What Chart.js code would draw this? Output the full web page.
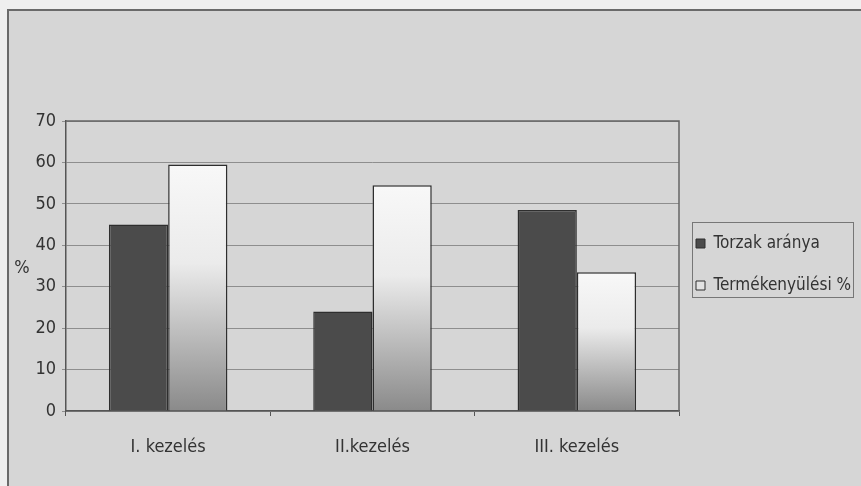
<!DOCTYPE html>
<html>
<head>
<meta charset="utf-8">
<script src="https://cdn.jsdelivr.net/npm/chart.js@4/dist/chart.umd.min.js"></script>
<style>
  html, body { margin: 0; padding: 0; background: #efefef; }
  #keret {
    position: absolute; left: 7px; top: 9px; width: 870px; height: 500px;
    border: 2px solid #6a6a6a; background: #d6d6d6;
  }
  #tarolo { position: absolute; left: 0; top: 0; width: 861px; height: 486px; }
</style>
</head>
<body>
<div id="keret"></div>
<div id="tarolo"><canvas id="grafikon"></canvas></div>
<script>
const kategoriak = ['I. kezelés', 'II.kezelés', 'III. kezelés'];
const torzakAranya = [45, 24, 48.5];
const termekenyulesi = [59.5, 54.5, 33.5];
const yTengelyCim = '%';

const betu = "'Liberation Sans Narrow', 'DejaVu Sans Condensed', sans-serif";

// szürke átmenet az oszlop tetejétől az aljáig
function atmenet(context) {
    const chart = context.chart;
    const { chartArea, scales } = chart;
    if (!chartArea) return '#dddddd';
    const ertek = context.raw;
    if (ertek === undefined) return '#dddddd';
    const teteje = scales.y.getPixelForValue(ertek);
    const g = chart.ctx.createLinearGradient(0, teteje, 0, chartArea.bottom);
    g.addColorStop(0, '#f8f8f8');
    g.addColorStop(0.4, '#ebebeb');
    g.addColorStop(1, '#8a8a8a');
    return g;
}

// jelmagyarázat doboza a rajzterület mellett
const jelmDoboz = { top: 222, bottom: 297, jobb: 853 };

const keretPlugin = {
    id: 'keretek',
    afterLayout(chart) {
        const l = chart.legend;
        l.left = chart.chartArea.right - 8;
        l.top = jelmDoboz.top - 12;
    },
    afterDraw(chart) {
        const ctx = chart.ctx;
        const bal = chart.chartArea.right + 13;
        ctx.save();
        ctx.strokeStyle = '#777777';
        ctx.lineWidth = 1;
        ctx.strokeRect(bal + 0.5, jelmDoboz.top + 0.5, jelmDoboz.jobb - bal, jelmDoboz.bottom - jelmDoboz.top);
        // y tengely cím, vízszintesen
        const y = chart.scales.y;
        ctx.fillStyle = '#333333';
        ctx.font = '18px ' + betu;
        ctx.textAlign = 'center';
        ctx.textBaseline = 'middle';
        ctx.fillText(yTengelyCim, 22, (y.top + y.bottom) / 2 + 2);
        ctx.restore();
    }
};

new Chart(document.getElementById('grafikon'), {
    type: 'bar',
    data: {
        labels: kategoriak,
        datasets: [{
            label: 'Torzak aránya',
            data: torzakAranya,
            backgroundColor: '#4b4b4b',
            borderColor: '#2e2e2e',
            borderWidth: 1.5
        }, {
            label: 'Termékenyülési %',
            data: termekenyulesi,
            backgroundColor: atmenet,
            borderColor: '#2e2e2e',
            borderWidth: 1.5
        }]
    },
    options: {
        responsive: true,
        maintainAspectRatio: false,
        animation: false,
        layout: { padding: { top: 121, left: 0, right: 0, bottom: 0 } },
        datasets: { bar: { categoryPercentage: 0.58, barPercentage: 1 } },
        scales: {
            x: {
                grid: { offset: true, drawOnChartArea: false, drawTicks: true, tickLength: 5, color: '#555555' },
                border: { color: '#555555', width: 1.5 },
                ticks: { color: '#333333', font: { family: betu, size: 18 }, padding: 21 },
                afterFit(scale) { scale.height = 75; }
            },
            y: {
                min: 0, max: 70,
                ticks: { stepSize: 10, color: '#333333', font: { family: betu, size: 18 }, padding: 6 },
                grid: { color: '#8e8e8e', lineWidth: 1, tickLength: 4 },
                border: { color: '#555555', width: 1.5 },
                afterFit(scale) { scale.width = 66; }
            }
        },
        plugins: {
            legend: {
                position: 'right',
                align: 'start',
                maxWidth: 182,
                labels: {
                    boxWidth: 9,
                    boxHeight: 9,
                    padding: 25,
                    color: '#333333',
                    font: { family: betu, size: 17 },
                    generateLabels(chart) {
                        const alap = Chart.defaults.plugins.legend.labels.generateLabels(chart);
                        alap[1].fillStyle = '#e2e2e2';
                        alap.forEach(l => { l.strokeStyle = '#2e2e2e'; l.lineWidth = 1; });
                        return alap;
                    }
                }
            },
            tooltip: { enabled: false }
        }
    },
    plugins: [keretPlugin, {
        id: 'plotKeret',
        beforeDatasetsDraw(chart) {
            const a = chart.chartArea;
            const ctx = chart.ctx;
            ctx.save();
            ctx.strokeStyle = '#666666';
            ctx.lineWidth = 1.5;
            ctx.beginPath();
            ctx.moveTo(a.left, a.top);
            ctx.lineTo(a.right, a.top);
            ctx.lineTo(a.right, a.bottom);
            ctx.stroke();
            ctx.restore();
        }
    }]
});
</script>
</body>
</html>
